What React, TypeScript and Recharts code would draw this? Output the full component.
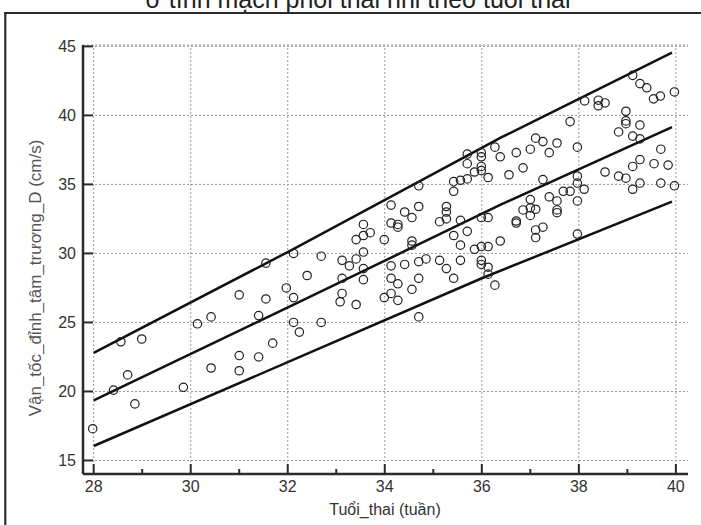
import React from 'react';
import { ScatterChart, Scatter, XAxis, YAxis, CartesianGrid, ReferenceLine } from 'recharts';

const X_TICKS = [28, 29, 30, 31, 32, 33, 34, 35, 36, 37, 38, 39, 40];
const X_GRID = [28, 30, 32, 34, 36, 38, 40];
const Y_TICKS = [15, 20, 25, 30, 35, 40, 45];

// measured points: gestational week / diastolic peak velocity D (cm/s)
const pointWeeks = [
  28.56, 28.99, 28.7, 28.41, 28.85, 27.98, 29.85, 30.14, 30.42, 31.0, 31.55, 32.12, 31.97, 31.55, 32.12, 31.4,
  32.12, 32.24, 31.69, 31.0, 31.4, 30.42, 31.0,
  32.69, 32.4, 32.69, 33.12, 33.27, 33.41, 33.56, 33.56, 33.56, 33.12, 33.12, 33.08, 33.41, 33.41, 33.56, 33.7,
  33.56, 33.99, 34.13, 34.13, 34.27, 34.27, 34.41, 34.56, 34.7, 34.7, 34.56, 34.56, 34.13, 34.41, 34.7, 34.85,
  34.13, 34.27, 34.7, 34.56, 33.99, 34.13, 34.27, 34.7, 35.13, 35.27, 35.42, 35.56, 35.56, 35.42, 35.7, 35.13,
  35.27, 35.27, 35.27, 35.56, 35.42, 35.42, 35.56, 35.7, 35.85, 35.7, 35.7, 35.99, 35.99, 35.99, 35.99, 36.13,
  36.27, 36.38, 35.99, 36.13, 35.85, 35.99, 36.13, 36.38, 35.99, 35.99, 36.13, 36.13, 36.27,
  39.11, 39.26, 39.4, 39.54, 39.68, 39.97, 38.12, 38.4, 38.4, 38.54, 38.97, 38.97, 38.97, 39.26, 38.82, 39.11,
  39.26, 37.82, 37.97, 39.69, 39.55, 39.84, 39.26, 39.11, 38.54, 38.82, 38.97, 39.26, 39.11, 39.69, 39.97, 37.97,
  37.97, 38.11, 37.97, 37.82, 37.68, 37.55, 37.39, 37.26, 36.85, 36.56, 36.71, 37.0, 37.11, 37.26, 37.55, 37.39,
  37.0, 36.85, 37.0, 37.11, 37.55, 37.55, 37.0, 36.71, 36.71, 37.26, 37.11, 37.11, 37.97,
];
const pointVelocity = [
  23.6, 23.8, 21.2, 20.1, 19.1, 17.3, 20.3, 24.9, 25.4, 27.0, 29.3, 30.0, 27.5, 26.7, 26.8, 25.5,
  25.0, 24.3, 23.5, 22.6, 22.5, 21.7, 21.5,
  29.8, 28.4, 25.0, 29.5, 29.1, 29.6, 30.1, 28.9, 28.1, 28.2, 27.1, 26.5, 26.3, 31.0, 31.3, 31.5,
  32.1, 31.0, 33.5, 32.2, 32.1, 31.9, 33.0, 32.6, 33.4, 34.9, 30.9, 30.6, 29.1, 29.2, 29.4, 29.6,
  28.2, 27.8, 28.2, 27.4, 26.8, 27.1, 26.6, 25.4, 29.5, 28.9, 28.2, 29.5, 30.6, 31.3, 31.6, 32.3,
  32.5, 33.0, 33.4, 32.4, 34.5, 35.2, 35.3, 35.4, 35.9, 36.5, 37.2, 37.3, 37.0, 36.3, 36.0, 35.5,
  37.7, 37.0, 32.6, 32.6, 30.3, 30.5, 30.5, 30.9, 29.5, 29.2, 29.0, 28.5, 27.7,
  42.9, 42.3, 42.0, 41.2, 41.4, 41.7, 41.05, 41.1, 40.7, 40.9, 40.3, 39.6, 39.4, 39.3, 38.8, 38.5,
  38.3, 39.55, 37.7, 37.55, 36.5, 36.4, 36.8, 36.3, 35.9, 35.6, 35.45, 35.1, 34.65, 35.1, 34.9, 35.6,
  35.1, 34.65, 33.8, 34.5, 34.5, 33.8, 34.1, 35.35, 36.2, 35.7, 37.3, 37.55, 38.35, 38.1, 38.0, 37.3,
  33.9, 33.15, 33.3, 33.2, 33.15, 32.95, 32.75, 32.35, 32.2, 31.9, 31.7, 31.15, 31.4,
];

// reference curves (upper, mean, lower)
const upperWeeks = [28, 32, 36.4, 39.92];
const upperValues = [22.8, 30.1, 38.4, 44.55];
const meanWeeks = [28, 32.25, 36.4, 39.92];
const meanValues = [19.35, 26.5, 33.55, 39.15];
const lowerWeeks = [28, 32.25, 36, 39.92];
const lowerValues = [16.05, 22.5, 28.2, 33.75];

const points = pointWeeks.map((w, i) => ({ x: w, y: pointVelocity[i] }));
const toLine = (xs: number[], ys: number[]) => xs.map((w, i) => ({ x: w, y: ys[i] }));
const upper = toLine(upperWeeks, upperValues);
const mean = toLine(meanWeeks, meanValues);
const lower = toLine(lowerWeeks, lowerValues);

const FONT = '"Liberation Sans", Arial, sans-serif';
const AXIS = '#2b2b2b';

function WeekTick({ x, y, payload }: any) {
  const major = payload.value % 2 === 0;
  return (
    <g>
      <line x1={x} y1={y} x2={x} y2={y - (major ? 10 : 5)} stroke={AXIS} strokeWidth={2} />
      {major && (
        <text x={x} y={y + 17.5} textAnchor="middle" fontSize={16} fontFamily={FONT} fill="#333">
          {payload.value}
        </text>
      )}
    </g>
  );
}

function SpeedTick({ x, y, payload }: any) {
  return (
    <g>
      <line x1={x} y1={y} x2={x + 10} y2={y} stroke={AXIS} strokeWidth={2} />
      <text x={x - 7} y={y + 5.8} textAnchor="end" fontSize={16} fontFamily={FONT} fill="#333">
        {payload.value}
      </text>
    </g>
  );
}

const Ring = (props: any) => (
  <circle cx={props.cx} cy={props.cy} r={4.2} fill="none" stroke="#222" strokeWidth={1.2} />
);
const NoDot = () => <g />;

export default function App() {
  return (
    <div style={{ position: 'absolute', left: 0, top: 0, width: 701, height: 525, overflow: 'hidden', background: '#fff' }}>
      <ScatterChart width={701} height={525} margin={{ top: 45, right: 13, bottom: 0, left: 0 }}>
        <CartesianGrid vertical={false} stroke="#9a9a9a" strokeDasharray="2 2" />
        {X_GRID.map((w) => (
          <ReferenceLine key={w} x={w} stroke="#9a9a9a" strokeDasharray="2 2" />
        ))}
        <XAxis
          type="number"
          dataKey="x"
          domain={[27.78, 40.25]}
          ticks={X_TICKS}
          interval={0}
          height={51}
          tickSize={0}
          tickMargin={0}
          tickLine={false}
          tick={<WeekTick />}
          axisLine={{ stroke: AXIS, strokeWidth: 2.5 }}
        />
        <YAxis
          type="number"
          dataKey="y"
          domain={[14.02, 45.1]}
          ticks={Y_TICKS}
          interval={0}
          width={83}
          tickSize={0}
          tickMargin={0}
          tickLine={false}
          tick={<SpeedTick />}
          axisLine={{ stroke: AXIS, strokeWidth: 2.5 }}
        />
        <Scatter data={upper} line={{ stroke: '#111', strokeWidth: 2.5 }} shape={NoDot} isAnimationActive={false} />
        <Scatter data={mean} line={{ stroke: '#111', strokeWidth: 2.5 }} shape={NoDot} isAnimationActive={false} />
        <Scatter data={lower} line={{ stroke: '#111', strokeWidth: 2.5 }} shape={NoDot} isAnimationActive={false} />
        <Scatter data={points} shape={Ring} isAnimationActive={false} />
      </ScatterChart>
      <svg width={701} height={525} style={{ position: 'absolute', left: 0, top: 0, pointerEvents: 'none' }}>
        <line x1={5.3} y1={12} x2={5.3} y2={525} stroke={AXIS} strokeWidth={2.2} />
        <line x1={4.2} y1={13} x2={701} y2={13} stroke={AXIS} strokeWidth={2.2} />
        <text x={358} y={8} textAnchor="middle" fontSize={25} fontFamily={FONT} fill="#222">
          ở tĩnh mạch phổi thai nhi theo tuổi thai
        </text>
        <text x={385} y={515} textAnchor="middle" fontSize={16} fontFamily={FONT} fill="#333">
          Tuổi_thai (tuần)
        </text>
        <text
          x={41}
          y={278}
          transform="rotate(-90 41 278)"
          textAnchor="middle"
          fontSize={17}
          fontFamily={FONT}
          fill="#555"
        >
          Vận_tốc_đỉnh_tâm_trương_D (cm/s)
        </text>
      </svg>
    </div>
  );
}
